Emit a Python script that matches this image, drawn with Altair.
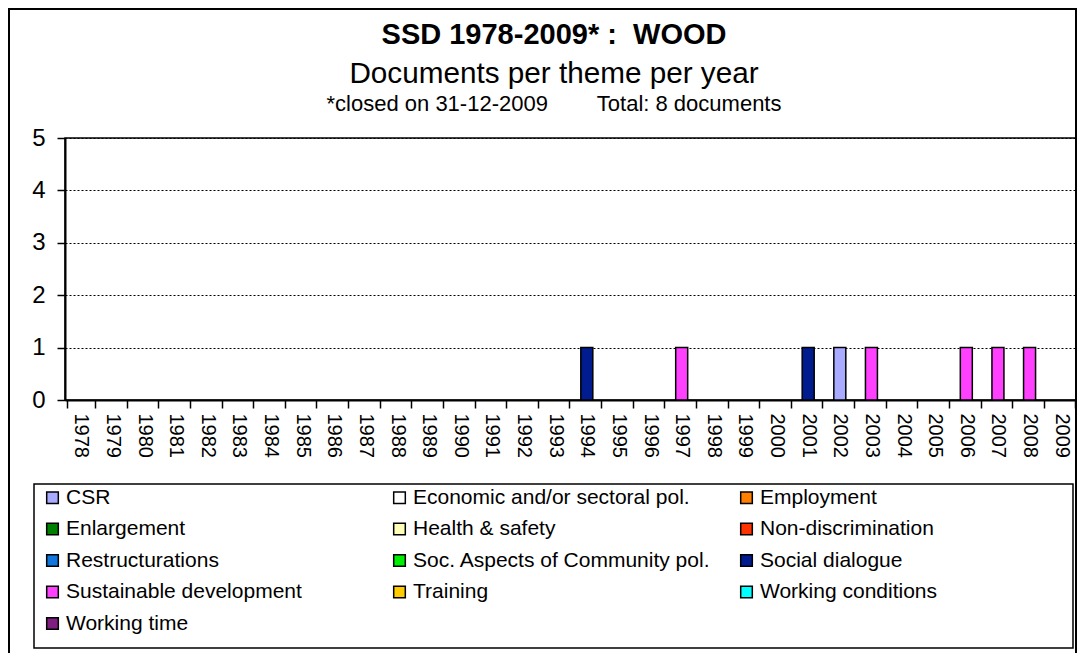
import altair as alt
import pandas as pd

years = ["1978", "1979", "1980", "1981", "1982", "1983", "1984", "1985", "1986", "1987",
         "1988", "1989", "1990", "1991", "1992", "1993", "1994", "1995", "1996", "1997",
         "1998", "1999", "2000", "2001", "2002", "2003", "2004", "2005", "2006", "2007",
         "2008", "2009"]

themes = ["CSR", "Economic and/or sectoral pol.", "Employment",
          "Enlargement", "Health & safety", "Non-discrimination",
          "Restructurations", "Soc. Aspects of Community pol.", "Social dialogue",
          "Sustainable development", "Training", "Working conditions",
          "Working time"]

theme_colors = ["#A8ABFF", "#FFFFFF", "#FF8000",
                "#008000", "#FFFFB8", "#FF3300",
                "#1177DD", "#00EE00", "#001C8E",
                "#FF40FF", "#FFCC00", "#00FFFF",
                "#7F1F7F"]

bar_years = ["1994", "1997", "2001", "2002", "2003", "2006", "2007", "2008"]
bar_themes = ["Social dialogue", "Sustainable development", "Social dialogue", "CSR",
              "Sustainable development", "Sustainable development",
              "Sustainable development", "Sustainable development"]
bar_counts = [1, 1, 1, 1, 1, 1, 1, 1]

NB = "\u00a0"
title_text = "SSD 1978-2009* :" + NB + NB + "WOOD"
subtitle_text = "Documents per theme per year"
note_text = "*closed on 31-12-2009" + NB * 8 + "Total: 8 documents"

FONT = "Liberation Sans"

df = pd.DataFrame({"year": bar_years, "theme": bar_themes, "count": bar_counts})

bars = alt.Chart(df).mark_bar(size=12, stroke="black", strokeWidth=1.5).encode(
    x=alt.X("year:N", scale=alt.Scale(domain=years),
            axis=alt.Axis(title=None, labelAngle=90, labelFontSize=20, labelPadding=5,
                          tickSize=8, tickColor="black", tickWidth=1.5, tickBand="extent",
                          domainColor="black", domainWidth=2, labelColor="black",
                          labelFont=FONT, grid=False)),
    y=alt.Y("sum(count):Q", scale=alt.Scale(domain=[0, 5], nice=False),
            axis=alt.Axis(title=None, values=[0, 1, 2, 3, 4, 5], labelFontSize=24,
                          labelPadding=12, tickSize=8, tickColor="black", tickWidth=1.5,
                          domainColor="black", domainWidth=2, labelColor="black",
                          labelFont=FONT, grid=True, gridColor="black", gridDash=[2, 2],
                          gridWidth=1)),
    fill=alt.Fill("theme:N", scale=alt.Scale(domain=themes, range=theme_colors),
                  legend=alt.Legend(title=None, orient="none", legendX=-23, legendY=349,
                                    direction="horizontal",
                                    columns=3, gridAlign="all", columnPadding=25,
                                    rowPadding=9.5, padding=0,
                                    symbolType="square", symbolSize=135,
                                    symbolStrokeColor="black", symbolStrokeWidth=1.5,
                                    symbolOpacity=1, labelFontSize=21, labelFont=FONT,
                                    labelColor="black", labelOffset=3, labelLimit=400)),
    order=alt.Order("theme:N"),
)

one = pd.DataFrame({"k": [0]})

frame = alt.Chart(one).mark_rect(fill="white", fillOpacity=0, stroke="black", strokeWidth=2).encode(
    x=alt.value(-56), x2=alt.value(1011), y=alt.value(-129), y2=alt.value(700)
)

legend_box = alt.Chart(one).mark_rect(fill="white", stroke="black", strokeWidth=1.5).encode(
    x=alt.value(-31), x2=alt.value(1008), y=alt.value(346), y2=alt.value(510)
)

t1 = alt.Chart(one).mark_text(font=FONT, fontSize=29, fontWeight="bold", color="black",
                              align="center", baseline="alphabetic").encode(
    x=alt.value(489), y=alt.value(-94), text=alt.value(title_text))
t2 = alt.Chart(one).mark_text(font=FONT, fontSize=29.7, color="black",
                              align="center", baseline="alphabetic").encode(
    x=alt.value(489), y=alt.value(-55), text=alt.value(subtitle_text))
t3 = alt.Chart(one).mark_text(font=FONT, fontSize=22, color="black",
                              align="center", baseline="alphabetic").encode(
    x=alt.value(489), y=alt.value(-27), text=alt.value(note_text))

chart = alt.layer(frame, legend_box, bars, t1, t2, t3).properties(
    width=1012, height=262,
    padding={"left": 57, "top": 130, "right": 0, "bottom": 253},
    autosize=alt.AutoSizeParams(type="none"),
).configure_view(stroke="black", strokeWidth=1.5)

chart.save("out.html", embed_options={"renderer": "svg", "actions": False})
